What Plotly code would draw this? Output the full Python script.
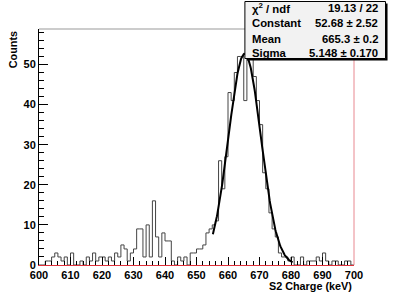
import numpy as np
import plotly.graph_objects as go

# ---- data ----
bin_low = 600
bin_width = 1
counts = [0, 0, 1, 1, 2, 3, 2, 1, 2, 0,
          3, 0, 0, 1, 0, 2, 1, 3, 1, 2,
          2, 1, 2, 1, 3, 2, 5, 4, 1, 3,
          4, 9, 9, 2, 10, 2, 16, 7, 2, 8,
          6, 6, 1, 0, 2, 1, 2, 0, 3, 3,
          4, 4, 5, 8, 9, 10, 11, 26, 19, 27,
          43, 41, 48, 52, 52, 41, 57, 52, 47, 41,
          35, 23, 19, 13, 9, 7, 3, 2, 2, 1,
          2, 0, 0, 2, 0, 1, 1, 1, 2, 1,
          3, 1, 0, 1, 1, 0, 0, 1, 1, 0]
fit_constant = 52.68
fit_mean = 665.3
fit_sigma = 5.148
fit_range = [655.2, 680.5]
stat_names = ["χ<sup>2</sup> / ndf", "Constant", "Mean", "Sigma"]
stat_values = ["19.13 / 22", "52.68 ± 2.52", "665.3 ± 0.2", "5.148 ± 0.170"]
x_ticks = list(range(600, 701, 10))
y_ticks = list(range(0, 51, 10))

# ---- geometry ----
W, H = 394, 295
L, R, T, B = 39.3, 354.0, 29.0, 265.0

def px(xp):
    return (xp - L) / (R - L)

def py(yp):
    return (B - yp) / (B - T)

edges = [bin_low + i * bin_width for i in range(len(counts) + 1)]
step_y = counts + [counts[-1]]

xf = np.linspace(fit_range[0], fit_range[1], 200)
yf = fit_constant * np.exp(-0.5 * ((xf - fit_mean) / fit_sigma) ** 2)

FONT = "Liberation Sans, Arial, Helvetica, sans-serif"

fig = go.Figure()
fig.add_trace(go.Scatter(x=edges, y=step_y, mode="lines", line_shape="hv",
                         line=dict(color="#444444", width=1), hoverinfo="skip"))
fig.add_trace(go.Scatter(x=xf, y=yf, mode="lines",
                         line=dict(color="black", width=2), hoverinfo="skip"))

fig.update_layout(
    width=W, height=H,
    margin=dict(l=L, r=W - R, t=T, b=H - B),
    paper_bgcolor="white", plot_bgcolor="white",
    showlegend=False,
    font=dict(family=FONT, size=11, color="black"),
    xaxis=dict(range=[600, 700], tickvals=x_ticks,
               ticktext=["<b>%d</b>" % v for v in x_ticks],
               ticks="inside", ticklen=8,
               tickcolor="black", tickwidth=1, showgrid=False, zeroline=False,
               showline=True, linecolor="#e0303a", linewidth=1,
               tickfont=dict(family=FONT, size=11, color="black"),
               minor=dict(dtick=2, ticks="inside", ticklen=4, tickcolor="black", showgrid=False)),
    yaxis=dict(range=[0, 58.85], tickvals=y_ticks,
               ticktext=["<b>%d</b>" % v for v in y_ticks],
               ticks="inside", ticklen=9,
               tickcolor="black", tickwidth=1, showgrid=False, zeroline=False,
               showline=True, linecolor="black", linewidth=1,
               tickfont=dict(family=FONT, size=11, color="black"),
               minor=dict(dtick=2, ticks="inside", ticklen=5, tickcolor="black", showgrid=False)),
)

# frame: top gray, right red
fig.add_shape(type="line", xref="paper", yref="paper", x0=0, x1=1, y0=1, y1=1,
              line=dict(color="#999999", width=1))
fig.add_shape(type="line", xref="paper", yref="paper", x0=1, x1=1, y0=0, y1=1,
              line=dict(color="#e88890", width=1))

# stats box with shadow
bx0, bx1, by0, by1 = 245.0, 385.5, 1.5, 58.5
fig.add_shape(type="rect", xref="paper", yref="paper",
              x0=px(bx0 + 2), x1=px(bx1 + 2), y0=py(by1 + 2), y1=py(by0 + 2),
              line=dict(width=0), fillcolor="black", layer="above")
fig.add_shape(type="rect", xref="paper", yref="paper",
              x0=px(bx0), x1=px(bx1), y0=py(by1), y1=py(by0),
              line=dict(color="black", width=1), fillcolor="#f2f2f2", layer="above")

row_y = [8.5, 23.5, 38.5, 53.0]
for name, val, yy in zip(stat_names, stat_values, row_y):
    fig.add_annotation(xref="paper", yref="paper", x=px(250), y=py(yy),
                       text="<b>" + name + "</b>", showarrow=False,
                       xanchor="left", yanchor="middle",
                       font=dict(family=FONT, size=11.3, color="black"))
    fig.add_annotation(xref="paper", yref="paper", x=px(380), y=py(yy),
                       text="<b>" + val + "</b>", showarrow=False,
                       xanchor="right", yanchor="middle",
                       font=dict(family=FONT, size=11.3, color="black"))

# axis titles (ROOT style, at the axis ends)
fig.add_annotation(xref="paper", yref="paper", x=px(354), y=py(285.5),
                   text="<b>S2 Charge (keV)</b>", showarrow=False,
                   xanchor="right", yanchor="middle",
                   font=dict(family=FONT, size=10.8, color="black"))
fig.add_annotation(xref="paper", yref="paper", x=px(13), y=py(29),
                   text="<b>Counts</b>", showarrow=False, textangle=-90,
                   xanchor="center", yanchor="top",
                   font=dict(family=FONT, size=10.8, color="black"))

fig.write_html("out.html", config={"displayModeBar": False},
               post_script="document.body.style.margin='0';document.body.style.overflow='hidden';")
